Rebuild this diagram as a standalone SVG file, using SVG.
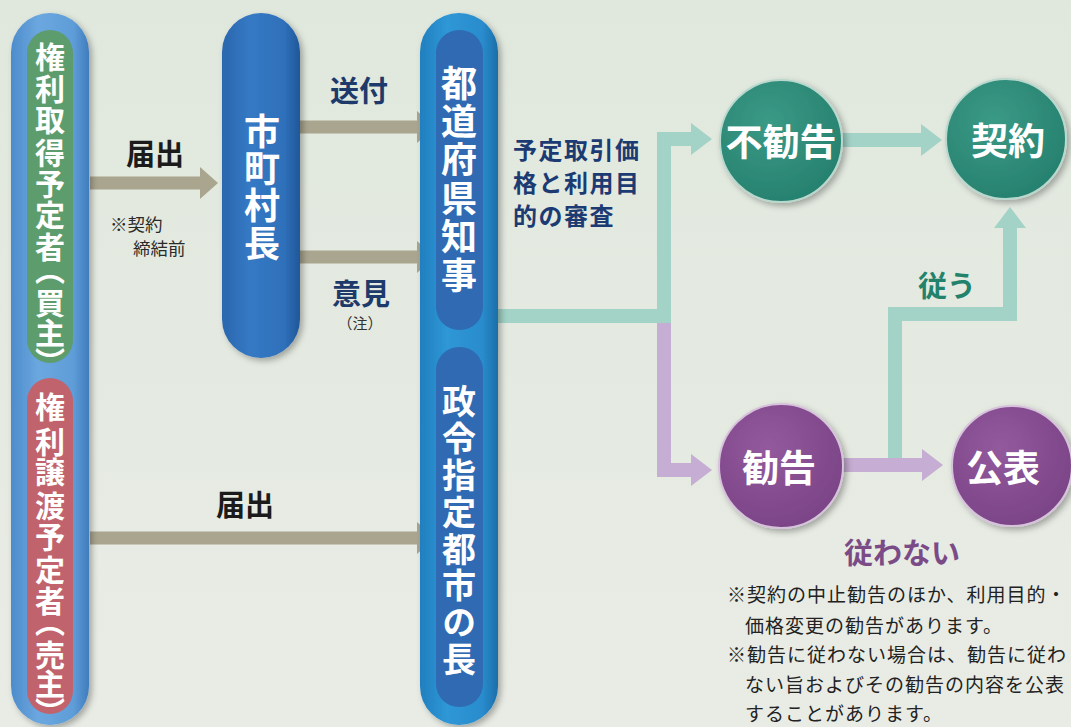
<svg xmlns="http://www.w3.org/2000/svg" width="1071" height="727" viewBox="0 0 1071 727">
<defs>
  <linearGradient id="bg" x1="0" y1="0" x2="0" y2="1">
    <stop offset="0" stop-color="#e0e8dd"/>
    <stop offset="1" stop-color="#e9ece5"/>
  </linearGradient>
  <linearGradient id="gLight" x1="0" y1="0" x2="1" y2="0">
    <stop offset="0" stop-color="#4d8ccc"/>
    <stop offset="0.35" stop-color="#6ba7df"/>
    <stop offset="0.8" stop-color="#5f9dd8"/>
    <stop offset="1" stop-color="#3f7cbd"/>
  </linearGradient>
  <linearGradient id="gMid" x1="0" y1="0" x2="1" y2="0">
    <stop offset="0" stop-color="#2a66ae"/>
    <stop offset="0.35" stop-color="#3579c4"/>
    <stop offset="0.8" stop-color="#2f70ba"/>
    <stop offset="1" stop-color="#1f5799"/>
  </linearGradient>
  <linearGradient id="gBright" x1="0" y1="0" x2="1" y2="0">
    <stop offset="0" stop-color="#217fbf"/>
    <stop offset="0.35" stop-color="#2f97d6"/>
    <stop offset="0.8" stop-color="#2a8ccd"/>
    <stop offset="1" stop-color="#1a6ea8"/>
  </linearGradient>
  <radialGradient id="gTeal" cx="0.4" cy="0.35" r="0.7">
    <stop offset="0" stop-color="#3a9a86"/>
    <stop offset="1" stop-color="#26806e"/>
  </radialGradient>
  <radialGradient id="gPurple" cx="0.4" cy="0.35" r="0.7">
    <stop offset="0" stop-color="#935a9d"/>
    <stop offset="1" stop-color="#7a4386"/>
  </radialGradient>
  <filter id="sh" x="-20%" y="-5%" width="150%" height="115%">
    <feDropShadow dx="3" dy="3" stdDeviation="3" flood-color="#000" flood-opacity="0.3"/>
  </filter>
  <marker id="mGrey" markerUnits="userSpaceOnUse" viewBox="0 0 18 32" markerWidth="18" markerHeight="32" refX="0" refY="16" orient="auto">
    <polygon points="0,0 18,16 0,32" fill="#a9a58f"/>
  </marker>
  <marker id="mTeal" markerUnits="userSpaceOnUse" viewBox="0 0 21 32" markerWidth="21" markerHeight="32" refX="0" refY="16" orient="auto">
    <polygon points="0,0 21,16 0,32" fill="#a3d2c7"/>
  </marker>
  <marker id="mPurple" markerUnits="userSpaceOnUse" viewBox="0 0 21 32" markerWidth="21" markerHeight="32" refX="0" refY="16" orient="auto">
    <polygon points="0,0 21,16 0,32" fill="#c6add3"/>
  </marker>
  <style>
    .jp { font-family: "Noto Sans CJK JP", "Noto Sans CJK SC", sans-serif; }
    .b { font-weight: 700; }
    .vt { writing-mode: vertical-rl; font-weight: 700; fill: #ffffff; }
    .lbl { font-size: 29px; font-weight: 700; text-anchor: middle; dominant-baseline: central; }
    .note { font-size: 19px; fill: #222222; font-weight: 400; }
    .grey { fill: none; stroke: #a9a58f; stroke-width: 13; marker-end: url(#mGrey); }
    .teal { fill: none; stroke: #a3d2c7; stroke-width: 14; stroke-linejoin: miter; }
    .purple { fill: none; stroke: #c6add3; stroke-width: 14; stroke-linejoin: miter; }
    .circ { font-size: 37px; font-weight: 700; fill: #fff; text-anchor: middle; dominant-baseline: central; }
    .tealc { fill: url(#gTeal); stroke: #b9d8cd; stroke-width: 2; }
    .purc { fill: url(#gPurple); stroke: #d6c2db; stroke-width: 2; }
  </style>
</defs>

<rect x="0" y="0" width="1071" height="727" fill="url(#bg)"/>

<g id="connectors">
  <line class="grey" x1="90" y1="183" x2="200" y2="183"/>
  <line class="grey" x1="299" y1="127" x2="417" y2="127"/>
  <line class="grey" x1="299" y1="257" x2="417" y2="257"/>
  <line class="grey" x1="90" y1="538" x2="417" y2="538"/>
  <polyline class="purple" points="664,318 664,470 691,470" marker-end="url(#mPurple)"/>
  <polyline class="teal" points="496,316 664,316 664,139 691,139" marker-end="url(#mTeal)"/>
  <line class="teal" x1="842" y1="140" x2="921" y2="140" marker-end="url(#mTeal)"/>
  <polyline class="teal" points="895,466 895,314 1010,314 1010,228" marker-end="url(#mTeal)"/>
  <line class="purple" x1="842" y1="465" x2="922" y2="465" marker-end="url(#mPurple)"/>
</g>

<g id="parties" filter="url(#sh)">
  <rect x="11" y="13" width="78" height="712" rx="39" fill="url(#gLight)"/>
</g>
<g id="buyer">
  <rect x="27" y="30" width="46" height="333" rx="23" fill="#5d9c6c"/>
  <text class="jp vt" x="50" y="42 74 105 138 169 200 232 255 288 318 347" font-size="30">権利取得予定者（買主）</text>
</g>
<g id="seller">
  <rect x="27" y="378" width="46" height="336" rx="23" fill="#c1636c"/>
  <text class="jp vt" x="50" y="392 427 457 491 522 555 586 607 640 669 697" font-size="30">権利譲渡予定者（売主）</text>
</g>

<g id="mayor">
  <rect x="222" y="13" width="78" height="345" rx="39" fill="url(#gMid)" filter="url(#sh)"/>
  <text class="jp vt" x="262" y="113" font-size="36" letter-spacing="1.3">市町村長</text>
</g>

<g id="authority">
  <rect x="420" y="13" width="78" height="712" rx="39" fill="url(#gBright)" filter="url(#sh)"/>
</g>
<g id="governor">
  <rect x="436" y="30" width="47" height="300" rx="23" fill="#2f6ab3"/>
  <text class="jp vt" x="459" y="65" font-size="36" letter-spacing="2.4">都道府県知事</text>
</g>
<g id="citymayor">
  <rect x="436" y="347" width="47" height="360" rx="23" fill="#2f6ab3"/>
  <text class="jp vt" x="459" y="384" font-size="34" letter-spacing="2.9">政令指定都市の長</text>
</g>

<g id="labels">
  <text class="jp lbl" x="155" y="152" fill="#1b1b1b">届出</text>
  <text class="jp" font-size="17.5" fill="#2a2a2a" dominant-baseline="central">
    <tspan x="110" y="223">※契約</tspan>
    <tspan x="133" y="247">締結前</tspan>
  </text>
  <text class="jp lbl" x="359" y="89" fill="#1d3a6b">送付</text>
  <text class="jp lbl" x="361" y="292" fill="#1d3a6b">意見</text>
  <text x="360" y="324" font-family="Liberation Serif, Noto Sans CJK JP, serif" font-size="15" fill="#333" text-anchor="middle" dominant-baseline="central">（注）</text>
  <text class="jp lbl" x="245" y="503" fill="#1b1b1b">届出</text>
  <text class="jp b" font-size="24" fill="#1c3b73" dominant-baseline="central" letter-spacing="1.5">
    <tspan x="513" y="148">予定取引価</tspan>
    <tspan x="513" y="181">格と利用目</tspan>
    <tspan x="513" y="214">的の審査</tspan>
  </text>
  <text class="jp lbl" x="947" y="284" fill="#23826c">従う</text>
  <text class="jp lbl" x="902" y="551" fill="#7b4b87">従わない</text>
</g>

<g id="nonadvice">
  <circle class="tealc" cx="781" cy="141" r="61" filter="url(#sh)"/>
  <text class="jp circ" x="781" y="140">不勧告</text>
</g>
<g id="contract">
  <circle class="tealc" cx="1006" cy="139" r="60" filter="url(#sh)"/>
  <text class="jp circ" x="1008" y="139">契約</text>
</g>
<g id="advice">
  <circle class="purc" cx="781" cy="466" r="62" filter="url(#sh)"/>
  <text class="jp circ" x="779" y="466">勧告</text>
</g>
<g id="publish">
  <circle class="purc" cx="1012" cy="466" r="60" filter="url(#sh)"/>
  <text class="jp circ" x="1003" y="466">公表</text>
</g>

<g id="notes">
  <text class="jp note" dominant-baseline="central">
    <tspan x="727" y="593" letter-spacing="1">※契約の中止勧告のほか、利用目的・</tspan>
    <tspan x="745" y="624" letter-spacing="1">価格変更の勧告があります。</tspan>
    <tspan x="727" y="653" letter-spacing="1">※勧告に従わない場合は、勧告に従わ</tspan>
    <tspan x="745" y="683" letter-spacing="1">ない旨およびその勧告の内容を公表</tspan>
    <tspan x="745" y="712" letter-spacing="1">することがあります。</tspan>
  </text>
</g>
</svg>
